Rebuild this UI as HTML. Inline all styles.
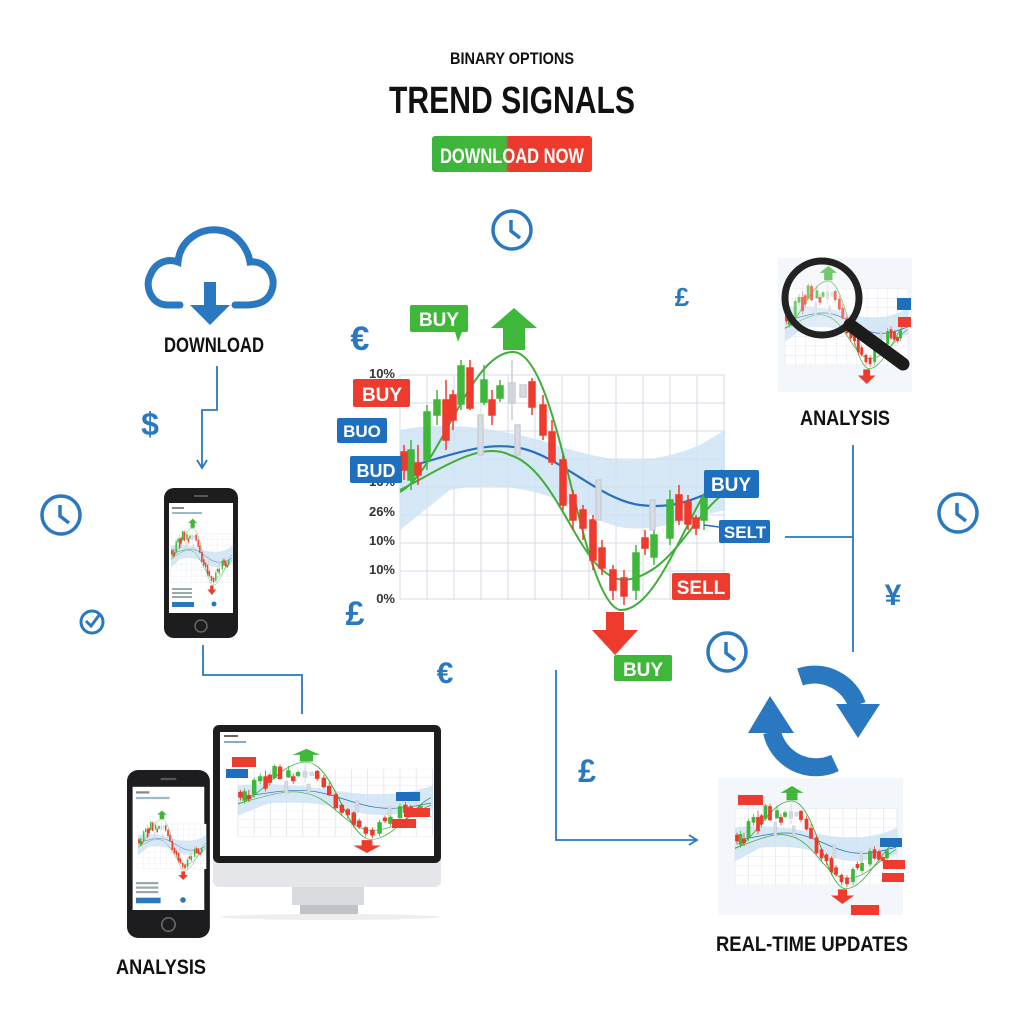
<!DOCTYPE html>
<html><head><meta charset="utf-8"><style>
html,body{margin:0;padding:0;background:#fff}
svg{display:block}
text{font-family:"Liberation Sans Narrow","Liberation Sans",sans-serif;font-weight:bold}
</style></head><body>
<svg width="1024" height="1024" viewBox="0 0 1024 1024" xmlns="http://www.w3.org/2000/svg">
<defs>
<linearGradient id="btn" x1="0" x2="1"><stop offset="0" stop-color="#3cb43c"/><stop offset="0.46" stop-color="#44b83a"/><stop offset="0.48" stop-color="#ea3a2e"/><stop offset="1" stop-color="#f03a2c"/></linearGradient>
<g id="core">
 <rect x="400" y="375" width="325" height="225" fill="#fff"/>
 <g stroke="#dde3ea" stroke-width="1.2">
  <path d="M400 375V600M427 375V600M454 375V600M481 375V600M508 375V600M535 375V600M562 375V600M589 375V600M616 375V600M643 375V600M670 375V600M697 375V600M724 375V600"/>
  <path d="M400 375H725M400 403H725M400 431H725M400 459H725M400 487H725M400 515H725M400 543H725M400 571H725M400 599H725"/>
 </g>
 <path d="M400 430 C450 420 500 430 540 440 C600 460 640 470 700 445 L725 430 L725 510 C680 520 640 540 600 520 C550 490 500 480 450 490 L400 530Z" fill="#cfe3f5" opacity="0.85"/>
 <path d="M402 468 C440 460 480 440 520 448 C560 456 600 500 640 505 C680 510 700 495 722 488" fill="none" stroke="#2a6ec4" stroke-width="2.2"/>
 <path d="M400 492 C440 470 470 350 514 352 C560 355 580 600 620 610 C660 612 690 500 722 470" fill="none" stroke="#3fae3a" stroke-width="2"/>
 <path d="M400 490 C440 470 480 440 510 455 C560 470 580 580 625 580 C670 575 690 520 722 495" fill="none" stroke="#3fae3a" stroke-width="2"/>
 <g stroke-width="1.5">
  <g stroke="#3fb83a" fill="#3fb83a">
   <line x1="411" y1="440" x2="411" y2="490"/><rect x="408" y="450" width="6" height="30"/>
   <line x1="427" y1="405" x2="427" y2="470"/><rect x="424" y="412" width="6" height="48"/>
   <line x1="437" y1="390" x2="437" y2="425"/><rect x="434" y="400" width="6" height="15"/>
   <line x1="461" y1="360" x2="461" y2="410"/><rect x="458" y="366" width="6" height="38"/>
   <line x1="484" y1="365" x2="484" y2="405"/><rect x="481" y="380" width="6" height="22"/>
   <line x1="500" y1="380" x2="500" y2="402"/><rect x="497" y="386" width="6" height="12"/>
   <line x1="636" y1="545" x2="636" y2="600"/><rect x="633" y="553" width="6" height="37"/>
   <line x1="654" y1="525" x2="654" y2="565"/><rect x="651" y="535" width="6" height="22"/>
   <line x1="670" y1="490" x2="670" y2="545"/><rect x="667" y="500" width="6" height="38"/>
   <line x1="704" y1="495" x2="704" y2="530"/><rect x="701" y="498" width="6" height="22"/>
  </g>
  <g stroke="#ee3b2e" fill="#ee3b2e">
   <line x1="404" y1="445" x2="404" y2="480"/><rect x="401" y="452" width="6" height="18"/>
   <line x1="418" y1="445" x2="418" y2="485"/><rect x="415" y="463" width="6" height="12"/>
   <line x1="446" y1="380" x2="446" y2="450"/><rect x="443" y="400" width="6" height="40"/>
   <line x1="453" y1="390" x2="453" y2="430"/><rect x="450" y="395" width="6" height="25"/>
   <line x1="470" y1="360" x2="470" y2="410"/><rect x="467" y="368" width="6" height="40"/>
   <line x1="492" y1="390" x2="492" y2="425"/><rect x="489" y="400" width="6" height="15"/>
   <line x1="532" y1="378" x2="532" y2="415"/><rect x="529" y="382" width="6" height="25"/>
   <line x1="543" y1="395" x2="543" y2="440"/><rect x="540" y="405" width="6" height="30"/>
   <line x1="552" y1="420" x2="552" y2="465"/><rect x="549" y="432" width="6" height="30"/>
   <line x1="563" y1="455" x2="563" y2="510"/><rect x="560" y="460" width="6" height="45"/>
   <line x1="573" y1="490" x2="573" y2="530"/><rect x="570" y="495" width="6" height="25"/>
   <line x1="583" y1="505" x2="583" y2="540"/><rect x="580" y="510" width="6" height="18"/>
   <line x1="593" y1="515" x2="593" y2="570"/><rect x="590" y="520" width="6" height="40"/>
   <line x1="602" y1="540" x2="602" y2="575"/><rect x="599" y="548" width="6" height="20"/>
   <line x1="613" y1="565" x2="613" y2="600"/><rect x="610" y="570" width="6" height="20"/>
   <line x1="624" y1="570" x2="624" y2="605"/><rect x="621" y="578" width="6" height="18"/>
   <line x1="645" y1="530" x2="645" y2="555"/><rect x="642" y="538" width="6" height="10"/>
   <line x1="679" y1="485" x2="679" y2="525"/><rect x="676" y="495" width="6" height="25"/>
   <line x1="688" y1="495" x2="688" y2="530"/><rect x="685" y="502" width="6" height="22"/>
   <line x1="696" y1="515" x2="696" y2="535"/><rect x="693" y="518" width="6" height="10"/>
  </g>
  <g stroke="#c9ced6" fill="#d8dce2">
   <rect x="509" y="383" width="6" height="20"/><line x1="512" y1="360" x2="512" y2="420"/>
   <rect x="520" y="385" width="6" height="12"/>
   <rect x="478" y="415" width="5" height="40"/><rect x="515" y="425" width="5" height="30"/>
   <rect x="596" y="480" width="5" height="40"/><rect x="650" y="500" width="5" height="30"/>
  </g>
 </g>
 <path d="M491 328 L514 308 L537 328 L525 328 L525 350 L503 350 L503 328Z" fill="#3fb83a"/>
 <path d="M592 630 L606 630 L606 612 L624 612 L624 630 L638 630 L615 655Z" fill="#ee3b2e"/>
</g>
<g id="ck"><circle cx="0" cy="0" r="19" fill="none" stroke="#2a78c0" stroke-width="3.5"/><path d="M-1 -10 V1 L8 8" fill="none" stroke="#2a78c0" stroke-width="3.5"/></g>
<g id="phone">
 <rect x="0" y="0" width="74" height="150" rx="10" fill="#1d1d1f"/>
 <rect x="5" y="15" width="64" height="110" fill="#fff"/>
 <circle cx="37" cy="138" r="6" fill="none" stroke="#666" stroke-width="1.5"/>
 <rect x="30" y="7" width="14" height="2" fill="#555"/>
 <rect x="8" y="100" width="20" height="2" fill="#9aa"/><rect x="8" y="104" width="20" height="2" fill="#9aa"/><rect x="8" y="108" width="20" height="2" fill="#9aa"/>
 <rect x="8" y="114" width="22" height="5" fill="#2a78c0"/><circle cx="50" cy="116" r="2.5" fill="#2a78c0"/>
 <rect x="8" y="19" width="12" height="2" fill="#888"/><rect x="8" y="24" width="30" height="2" fill="#9bc"/>
</g>
</defs>

<text x="512" y="64" text-anchor="middle" font-size="17" fill="#111" textLength="124" lengthAdjust="spacingAndGlyphs">BINARY OPTIONS</text>
<text x="512" y="113" text-anchor="middle" font-size="38" fill="#111" textLength="246" lengthAdjust="spacingAndGlyphs">TREND SIGNALS</text>
<rect x="432" y="136" width="160" height="36" rx="3" fill="url(#btn)"/>
<text x="512" y="163" text-anchor="middle" font-size="21" fill="#fff" font-weight="normal" textLength="144" lengthAdjust="spacingAndGlyphs">DOWNLOAD NOW</text>

<use href="#ck" transform="translate(512,230)"/>
<path d="M180 305 H168 C150 305 145 285 150 276 C155 262 168 258 178 262 C180 240 200 228 218 230 C238 232 248 250 250 262 C265 260 277 275 272 290 C268 302 258 305 245 305 H235" fill="none" stroke="#2a78c0" stroke-width="7" stroke-linecap="round"/>
<path d="M204 282 H216 V305 H230 L210 325 L190 305 H204Z" fill="#2a78c0"/>
<text x="214" y="352" text-anchor="middle" font-size="21" fill="#111" font-weight="normal" textLength="100" lengthAdjust="spacingAndGlyphs">DOWNLOAD</text>
<path d="M217 366 V410 H202 V467" fill="none" stroke="#2a78c0" stroke-width="1.8"/>
<path d="M197 460 L202 468 L207 460" fill="none" stroke="#2a78c0" stroke-width="1.8"/>
<text x="150" y="435" text-anchor="middle" font-size="32" fill="#2a78c0">$</text>
<use href="#ck" transform="translate(61,515)"/>
<circle cx="92" cy="622" r="11" fill="none" stroke="#2a78c0" stroke-width="3"/><path d="M86 621 L91 626 L100 614" fill="none" stroke="#2a78c0" stroke-width="3"/>

<use href="#phone" transform="translate(164,488)"/>
<use href="#core" transform="translate(171,518) scale(0.19,0.22) translate(-400,-305)"/>
<path d="M203 645 V675 H302 V714" fill="none" stroke="#2a78c0" stroke-width="1.8"/>

<use href="#core"/>
<g font-size="13" fill="#333" font-weight="normal" text-anchor="end">
<text x="395" y="378">10%</text><text x="395" y="486">16%</text><text x="395" y="516">26%</text><text x="395" y="545">10%</text><text x="395" y="574">10%</text><text x="395" y="603">0%</text>
</g>
<g font-size="19" fill="#fff" font-weight="normal" text-anchor="middle">
<rect x="410" y="305" width="58" height="27" rx="2" fill="#3fb83a"/><path d="M455 332 L458 342 L462 332Z" fill="#3fb83a"/><text x="439" y="326">BUY</text>
<rect x="353" y="379" width="57" height="28" rx="2" fill="#ee3b2e"/><text x="382" y="401">BUY</text>
<rect x="337" y="418" width="50" height="25" rx="2" fill="#1f6fbf"/><text x="362" y="437" font-size="17">BUO</text>
<rect x="350" y="456" width="52" height="27" rx="2" fill="#1f6fbf"/><text x="376" y="477" font-size="18">BUD</text>
<rect x="704" y="470" width="55" height="28" rx="2" fill="#1f6fbf"/><text x="731" y="491">BUY</text>
<rect x="719" y="520" width="51" height="23" rx="2" fill="#1f6fbf"/><text x="745" y="538" font-size="17">SELT</text>
<rect x="672" y="573" width="58" height="27" rx="2" fill="#ee3b2e"/><text x="701" y="594">SELL</text>
<rect x="614" y="655" width="58" height="26" rx="2" fill="#3fb83a"/><text x="643" y="676">BUY</text>
</g>
<line x1="704" y1="525" x2="719" y2="527" stroke="#1f6fbf" stroke-width="1.5"/>
<g fill="#2a78c0" font-size="34" text-anchor="middle">
<text x="360" y="350">€</text><text x="682" y="306" font-size="26">£</text><text x="355" y="625">£</text><text x="445" y="683" font-size="30">€</text><text x="587" y="782" font-size="32">£</text><text x="893" y="605" font-size="30">¥</text>
</g>
<use href="#ck" transform="translate(727,652)"/>
<use href="#ck" transform="translate(958,513)"/>

<rect x="778" y="258" width="134" height="134" fill="#f3f6fa"/>
<use href="#core" transform="translate(785,265) scale(0.38,0.34) translate(-400,-305)"/>
<rect x="897" y="298" width="14" height="12" fill="#1f6fbf"/><rect x="898" y="317" width="13" height="10" fill="#ee3b2e"/>
<circle cx="822" cy="298" r="37" fill="#fff" fill-opacity="0.25" stroke="#222" stroke-width="7"/>
<line x1="850" y1="325" x2="903" y2="364" stroke="#1c1c1c" stroke-width="13" stroke-linecap="round"/>
<text x="845" y="425" text-anchor="middle" font-size="21" fill="#111" font-weight="normal" textLength="90" lengthAdjust="spacingAndGlyphs">ANALYSIS</text>
<path d="M853 445 V652 M785 537 H853" fill="none" stroke="#2a78c0" stroke-width="1.8"/>

<path d="M800 677 A45 45 0 0 1 857 705" fill="none" stroke="#2a78c0" stroke-width="18"/>
<path d="M836 704 L880 704 L858 738Z" fill="#2a78c0"/>
<path d="M835 763 A45 45 0 0 1 772 732" fill="none" stroke="#2a78c0" stroke-width="18"/>
<path d="M748 733 L794 733 L770 696Z" fill="#2a78c0"/>

<rect x="718" y="778" width="185" height="137" fill="#f3f6fa"/>
<use href="#core" transform="translate(735,785) scale(0.50,0.34) translate(-400,-305)"/>
<rect x="738" y="795" width="25" height="10" fill="#ee3b2e"/><rect x="880" y="838" width="22" height="9" fill="#1f6fbf"/><rect x="883" y="860" width="22" height="9" fill="#ee3b2e"/><rect x="882" y="873" width="22" height="9" fill="#ee3b2e"/><rect x="851" y="905" width="28" height="10" fill="#ee3b2e"/>
<text x="812" y="951" text-anchor="middle" font-size="21" fill="#111" font-weight="normal" textLength="192" lengthAdjust="spacingAndGlyphs">REAL-TIME UPDATES</text>
<path d="M556 670 V840 H696" fill="none" stroke="#2a78c0" stroke-width="1.8"/>
<path d="M689 835 L697 840 L689 845" fill="none" stroke="#2a78c0" stroke-width="1.8"/>

<rect x="292" y="885" width="72" height="20" fill="#d9dcdf"/>
<rect x="300" y="905" width="58" height="10" fill="#bfc3c7"/><ellipse cx="330" cy="917" rx="110" ry="3" fill="#eee"/>
<rect x="213" y="725" width="228" height="162" rx="6" fill="#e4e6e9"/>
<rect x="213" y="725" width="228" height="138" rx="6" fill="#1d1d1f"/>
<rect x="220" y="732" width="214" height="124" fill="#fff"/>
<rect x="224" y="735" width="14" height="2" fill="#666"/><rect x="224" y="741" width="22" height="2" fill="#8ac"/>
<use href="#core" transform="translate(238,748) scale(0.60,0.30) translate(-400,-305)"/>
<rect x="232" y="757" width="24" height="10" fill="#ee3b2e"/><rect x="226" y="769" width="22" height="9" fill="#1f6fbf"/><rect x="396" y="792" width="24" height="9" fill="#1f6fbf"/><rect x="404" y="808" width="26" height="9" fill="#ee3b2e"/><rect x="392" y="819" width="24" height="9" fill="#ee3b2e"/>
<use href="#phone" transform="translate(127,770) scale(1.12,1.12)"/>
<use href="#core" transform="translate(138,810) scale(0.21,0.2) translate(-400,-305)"/>
<text x="161" y="974" text-anchor="middle" font-size="21" fill="#111" font-weight="normal" textLength="90" lengthAdjust="spacingAndGlyphs">ANALYSIS</text>
</svg>
</body></html>
